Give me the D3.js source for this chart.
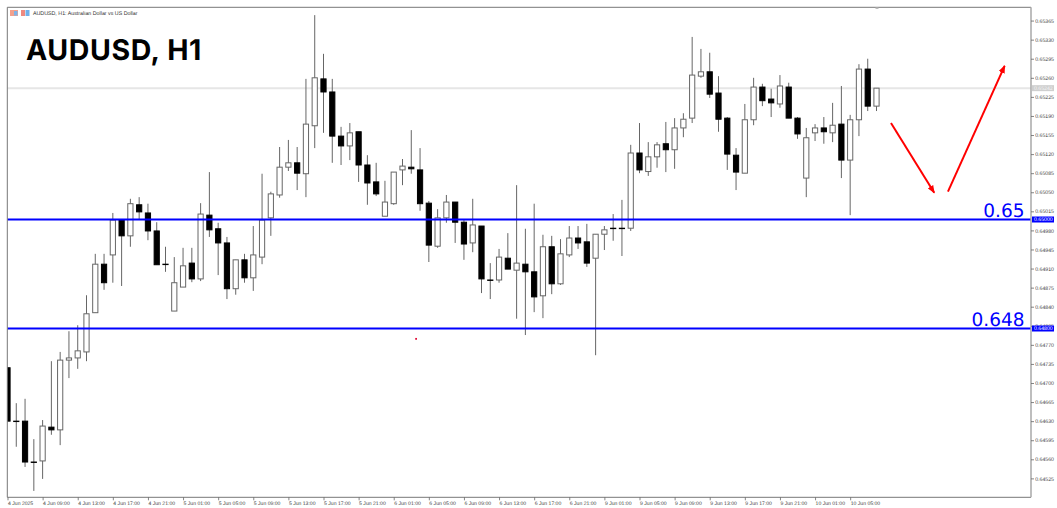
<!DOCTYPE html>
<html><head><meta charset="utf-8">
<script src="https://cdn.jsdelivr.net/npm/d3@7/dist/d3.min.js"></script>
<style>
html,body{margin:0;padding:0;background:#fff}
svg{display:block;text-rendering:geometricPrecision}
</style></head><body>
<svg id="chart" width="1057" height="508"></svg>
<script>
const title = "AUDUSD, H1";
const subtitle = "AUDUSD, H1:  Australian Dollar vs US Dollar";
const opens = [.64728,.64630,.64630,.64555,.64557,.64619,.64614,.64742,.64746,.64757,.64829,.64918,.64935,.64999,.64970,.65027,.65012,.64979,.64918,.64832,
.64876,.64920,.64891,.65008,.64983,.64957,.64873,.64926,.64893,.64931,.65003,.65045,.65096,.65104,.65084,.65172,.65258,.65234,.65153,.65135,
.65161,.65100,.65069,.65006,.65029,.65091,.65096,.65091,.65030,.64951,.65003,.65032,.64995,.64957,.64988,.64889,.64889,.64929,.64907,.64918,
.64904,.64860,.64950,.64882,.64935,.64966,.64959,.64929,.64973,.64984,.64984,.64984,.65122,.65088,.65115,.65139,.65128,.65168,.65186,.65263,
.65271,.65232,.65186,.65118,.65085,.65183,.65243,.65221,.65212,.65243,.65186,.65076,.65159,.65168,.65159,.65175,.65109,.65183,.65276,.65208];
const highs = [.64728,.64663,.64671,.64597,.64632,.64740,.64757,.64795,.64806,.64861,.64937,.64937,.65012,.64999,.65038,.65041,.65029,.64995,.64950,.64931,
.64948,.64948,.65030,.65087,.64994,.64968,.64926,.64937,.64988,.65084,.65051,.65133,.65146,.65133,.65258,.65375,.65304,.65258,.65170,.65177,
.65161,.65118,.65104,.65071,.65087,.65111,.65164,.65131,.65034,.65019,.65045,.65032,.64999,.65038,.64988,.64920,.64946,.64975,.65063,.64983,
.65029,.64972,.64970,.64964,.64988,.64988,.64992,.64973,.64988,.65010,.65036,.65137,.65177,.65142,.65142,.65179,.65186,.65195,.65335,.65313,
.65306,.65263,.65188,.65131,.65212,.65260,.65249,.65240,.65265,.65251,.65188,.65168,.65175,.65188,.65214,.65245,.65192,.65285,.65295,.65241];
const lows = [.64630,.64583,.64546,.64502,.64524,.64605,.64586,.64709,.64726,.64740,.64829,.64871,.64884,.64878,.64950,.64999,.64962,.64917,.64904,.64832,
.64876,.64885,.64887,.64968,.64898,.64854,.64862,.64884,.64869,.64918,.64970,.65040,.65089,.65054,.65041,.65131,.65159,.65104,.65100,.65109,
.65069,.65027,.65043,.65006,.65027,.65063,.65084,.65016,.64922,.64948,.64994,.64957,.64926,.64940,.64865,.64854,.64884,.64909,.64818,.64788,
.64830,.64819,.64863,.64880,.64931,.64946,.64913,.64751,.64944,.64961,.64933,.64979,.65085,.65080,.65095,.65087,.65093,.65151,.65177,.65260,
.65223,.65161,.65091,.65054,.65085,.65173,.65208,.65188,.65205,.65186,.65148,.65041,.65144,.65139,.65142,.65076,.65008,.65153,.65199,.65199];
const closes = [.64630,.64630,.64555,.64555,.64621,.64614,.64742,.64746,.64759,.64827,.64918,.64884,.64999,.64970,.65029,.65014,.64979,.64917,.64918,.64884,
.64915,.64891,.65010,.64981,.64957,.64873,.64926,.64893,.64935,.64999,.65047,.65096,.65104,.65085,.65175,.65260,.65234,.65153,.65135,.65159,
.65100,.65067,.65047,.65032,.65087,.65098,.65093,.65029,.64953,.65003,.65032,.64995,.64955,.64990,.64891,.64889,.64931,.64909,.64920,.64904,
.64858,.64950,.64882,.64937,.64966,.64957,.64920,.64973,.64981,.64984,.64984,.65122,.65091,.65115,.65137,.65128,.65168,.65184,.65265,.65271,
.65230,.65184,.65120,.65087,.65183,.65243,.65218,.65214,.65245,.65186,.65157,.65150,.65168,.65161,.65173,.65109,.65183,.65276,.65208,.65241];

const priceTicks = [.65365,.65330,.65295,.65260,.65225,.65190,.65155,.65120,.65085,.65050,.65015,.64980,.64945,.64910,.64875,.64840,.64805,.64770,.64735,.64700,.64665,.64630,.64595,.64560,.64525];
const timeLabels = ["4 Jun 2025","4 Jun 09:00","4 Jun 13:00","4 Jun 17:00","4 Jun 21:00","5 Jun 01:00","5 Jun 05:00","5 Jun 09:00","5 Jun 13:00","5 Jun 17:00","5 Jun 21:00","6 Jun 01:00","6 Jun 05:00","6 Jun 09:00","6 Jun 13:00","6 Jun 17:00","6 Jun 21:00","9 Jun 01:00","9 Jun 05:00","9 Jun 09:00","9 Jun 13:00","9 Jun 17:00","9 Jun 21:00","10 Jun 01:00","10 Jun 05:00"];
const timeTickBars = timeLabels.map((_, k) => k * 4);
const levels = [0.65, 0.648];
const levelTexts = ["0.65", "0.648"];
const levelTags = ["0.65000", "0.64800"];
const lastPrice = 0.65241;
const lastPriceTag = "0.65242";
const arrowDown = [[100.65, .65177], [105.58, .65049]];
const arrowUp = [[107.14, .65051], [113.6, .65282]];
const redDot = [46.55, .64781];

const svg = d3.select("#chart");
const L = 7.3, T = 7.3, R = 1031, B = 497.3;
const x = d3.scaleLinear([0, 99], [7.5, 876.5]);
const y = d3.scaleLinear([0.648, 0.65], [328.5, 219.5]);
const inkGrey = "#666666";
const bodyW = 5.2;

const defs = svg.append("defs");
defs.append("clipPath").attr("id", "plot").append("rect")
  .attr("x", L).attr("y", T).attr("width", R - L).attr("height", B - T);
defs.append("marker").attr("id", "ah").attr("viewBox", "0 0 10 8").attr("refX", 9).attr("refY", 4)
  .attr("markerUnits", "userSpaceOnUse").attr("markerWidth", 8).attr("markerHeight", 6.5).attr("orient", "auto")
  .append("path").attr("d", "M0,0L10,4L0,8z").attr("fill", "#ff0000");

const g = svg.append("g").attr("clip-path", "url(#plot)");

// current price line
g.append("line").attr("x1", L).attr("x2", R).attr("y1", y(lastPrice)).attr("y2", y(lastPrice))
  .attr("stroke", "#e6e6e6").attr("stroke-width", 2);

// candles
const idx = d3.range(opens.length);
g.append("g").selectAll("line").data(idx).join("line")
  .attr("x1", i => x(i)).attr("x2", i => x(i))
  .attr("y1", i => y(highs[i])).attr("y2", i => y(lows[i]))
  .attr("stroke", inkGrey).attr("stroke-width", 1);
g.append("g").selectAll("rect").data(idx).join("rect")
  .attr("x", i => x(i) - bodyW / 2).attr("width", bodyW)
  .attr("y", i => y(Math.max(opens[i], closes[i])))
  .attr("height", i => Math.max(0.4, Math.abs(y(opens[i]) - y(closes[i]))))
  .attr("fill", i => closes[i] > opens[i] ? "#fff" : "#000")
  .attr("stroke", i => closes[i] > opens[i] ? inkGrey : "#000")
  .attr("stroke-width", 1);

// level lines
g.selectAll(".lvl").data(levels).join("line").attr("class", "lvl")
  .attr("x1", L).attr("x2", R).attr("y1", d => y(d)).attr("y2", d => y(d))
  .attr("stroke", "#0000ff").attr("stroke-width", 1.9);

// frame
svg.append("path").attr("d", `M${L},${B}V${T}H${R}`).attr("fill", "none").attr("stroke", "#777").attr("stroke-width", 1);
svg.append("line").attr("x1", L).attr("x2", R).attr("y1", B).attr("y2", B).attr("stroke", "#777").attr("stroke-width", 1);
svg.append("line").attr("x1", R).attr("x2", R).attr("y1", T).attr("y2", B).attr("stroke", "#a8a8a8").attr("stroke-width", 1.5);
svg.append("rect").attr("x", 875.5).attr("y", 7.5).attr("width", 3).attr("height", 1.5).attr("fill", "#bbb");

// axes
const axisStyle = (a, size) => {
  a.select(".domain").remove();
  a.selectAll("line").attr("stroke", "#666").attr("stroke-width", 0.8);
  a.selectAll("text").attr("fill", "#444").attr("font-family", "'Liberation Sans',Arial,sans-serif").attr("font-size", size);
};
const yAxis = svg.append("g").attr("transform", `translate(${R},0)`)
  .call(d3.axisRight(y).tickValues(priceTicks).tickFormat(d3.format(".5f")).tickSize(3).tickPadding(1.2));
axisStyle(yAxis, 5.2);

const xAxis = svg.append("g").attr("transform", `translate(0,${B})`)
  .call(d3.axisBottom(x).tickValues(timeTickBars).tickFormat((d, k) => timeLabels[k]).tickSize(3).tickPadding(0));
axisStyle(xAxis, 5.1);
xAxis.selectAll("text").attr("text-anchor", "start").attr("y", 3.6).attr("dy", "0.71em");

// price tags
const tag = (price, text, fill, color) => {
  svg.append("rect").attr("x", R + 1).attr("y", y(price) - 3).attr("width", 22).attr("height", 6).attr("fill", fill);
  svg.append("text").attr("x", R + 3).attr("y", y(price)).attr("dy", "0.36em")
    .attr("font-family", "'Liberation Sans',Arial,sans-serif").attr("font-size", 5.2).attr("fill", color).text(text);
};
tag(lastPrice, lastPriceTag, "#cfcfcf", "#f4f4f4");
levels.forEach((d, k) => tag(d, levelTags[k], "#0000ff", "#ffffff"));

// level annotations
svg.selectAll(".lvlText").data(levels).join("text").attr("class", "lvlText")
  .attr("x", 1024.5).attr("y", d => y(d) - 2.8).attr("text-anchor", "end")
  .attr("font-family", "'DejaVu Sans',sans-serif").attr("font-size", 18.5).attr("fill", "#0000ff")
  .text((d, k) => levelTexts[k]);

// arrows and dot
[arrowDown, arrowUp].forEach(a => {
  svg.append("line").attr("x1", x(a[0][0])).attr("y1", y(a[0][1])).attr("x2", x(a[1][0])).attr("y2", y(a[1][1]))
    .attr("stroke", "#ff0000").attr("stroke-width", 2).attr("marker-end", "url(#ah)");
});
svg.append("rect").attr("x", x(redDot[0]) - 0.9).attr("y", y(redDot[1]) - 0.9).attr("width", 1.8).attr("height", 1.8).attr("fill", "#e0103a");

// header
svg.append("text").attr("x", 26).attr("y", 60).attr("font-family", "Inter,sans-serif").attr("font-weight", 700)
  .attr("font-size", 28.5).attr("letter-spacing", 0.6).attr("fill", "#000").text(title);
svg.append("text").attr("x", 33).attr("y", 15).attr("font-family", "'Liberation Sans',Arial,sans-serif")
  .attr("font-size", 5.3).attr("fill", "#333").text(subtitle);
const icons = svg.append("g");
icons.append("rect").attr("x", 10).attr("y", 10).attr("width", 8).attr("height", 6).attr("fill", "#f3a08c");
icons.append("rect").attr("x", 14).attr("y", 11).attr("width", 3.5).attr("height", 4.5).attr("fill", "#7fb2e6");
icons.append("rect").attr("x", 21).attr("y", 10).attr("width", 4).attr("height", 6).attr("fill", "#ee8a80");
icons.append("rect").attr("x", 25.5).attr("y", 10).attr("width", 4).attr("height", 6).attr("fill", "#6fb0ea");
</script>
</body></html>
